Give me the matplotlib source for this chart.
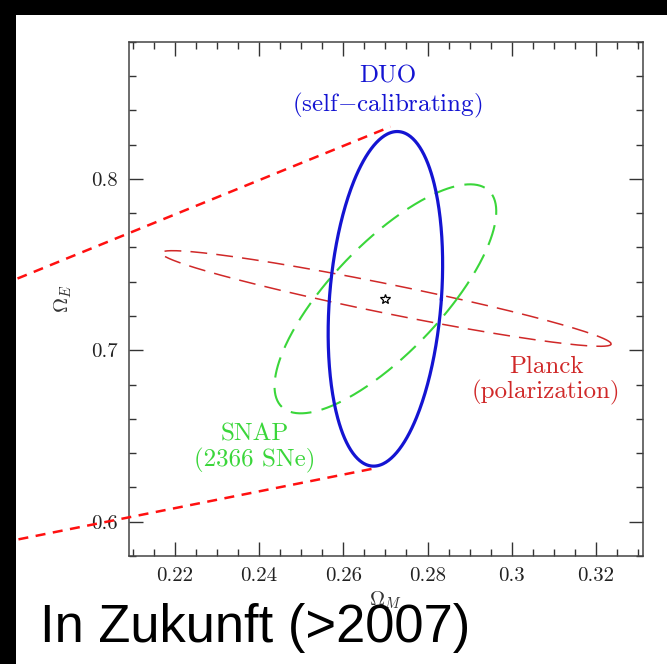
import numpy as np
import matplotlib

matplotlib.use("Agg")
import matplotlib.pyplot as plt
from matplotlib.patches import Rectangle
from matplotlib.ticker import MultipleLocator

plt.rcParams["mathtext.fontset"] = "cm"
plt.rcParams["axes.unicode_minus"] = False

# star = fiducial model
star = (0.270, 0.730)

# ellipses: center + [[a, b], [c, d]] @ (cos t, sin t)
duo_center = (0.270, 0.730)
duo_axes = [[0.0133, 0.0028], [0.0, 0.0976]]
snap_center = (0.270, 0.730)
snap_axes = [[0.0170, 0.0201], [0.0, 0.0668]]
planck_center = (0.2702, 0.7302)
planck_axes = [[0.0534, 0.0], [-0.0265, 0.0087]]

# red callout lines (data coords, run off the axes to the left)
callout_top = ([0.1788, 0.2712], [0.7380, 0.8304])
callout_bot = ([0.1788, 0.2676], [0.5877, 0.6312])

x_ticks = [0.22, 0.24, 0.26, 0.28, 0.30, 0.32]
x_ticklabels = ["0.22", "0.24", "0.26", "0.28", "0.3", "0.32"]
y_ticks = [0.6, 0.7, 0.8]
y_ticklabels = ["0.6", "0.7", "0.8"]

BLUE = "#1414d2"
GREEN = "#3ad63a"
PLANCK = "#d02828"
CALLOUT = "#ff1010"
SERIF = "cmr10"


def ellipse(center, m, n=400):
    t = np.linspace(0, 2 * np.pi, n)
    m = np.asarray(m)
    pts = m @ np.vstack([np.cos(t), np.sin(t)])
    return center[0] + pts[0], center[1] + pts[1]


fig = plt.figure(figsize=(6.67, 6.64), dpi=100)
fig.patch.set_facecolor("white")
# black slide border, top and left
fig.patches.append(Rectangle((0, 1 - 15 / 664), 1, 15 / 664, transform=fig.transFigure,
                             facecolor="black", edgecolor="none", zorder=0))
fig.patches.append(Rectangle((0, 0), 16 / 667, 1, transform=fig.transFigure,
                             facecolor="black", edgecolor="none", zorder=0))

ax = fig.add_axes((0.1939, 0.1627, 0.7697, 0.7745))
ax.set_xlim(0.2092, 0.3311)
ax.set_ylim(0.58, 0.88)

x, y = ellipse(planck_center, planck_axes)
ax.plot(x, y, color=PLANCK, lw=1.1, dashes=(11, 6))
x, y = ellipse(snap_center, snap_axes)
ax.plot(x, y, color=GREEN, lw=1.5, dashes=(10, 5))
x, y = ellipse(duo_center, duo_axes)
ax.plot(x, y, color=BLUE, lw=2.3)
ax.plot(*star, marker="*", ms=7, mfc="white", mec="black", mew=0.9)

for xs, ys in (callout_top, callout_bot):
    ax.plot(xs, ys, color=CALLOUT, lw=1.8, dashes=(4, 3), clip_on=False, zorder=5)

ax.text(0.2705, 0.8503, "DUO\n(self$-$calibrating)", color=BLUE, family=SERIF,
        fontsize=18, ha="center", va="center", linespacing=1.2)
ax.text(0.239, 0.6429, "SNAP\n(2366 SNe)", color=GREEN, family=SERIF,
        fontsize=18, ha="center", va="center", linespacing=1.1)
ax.text(0.3082, 0.6822, "Planck\n(polarization)", color=PLANCK, family=SERIF,
        fontsize=18, ha="center", va="center", linespacing=1.1)

ax.set_xticks(x_ticks)
ax.set_xticklabels(x_ticklabels, family=SERIF, fontsize=15)
ax.set_yticks(y_ticks)
ax.set_yticklabels(y_ticklabels, family=SERIF, fontsize=15)
ax.xaxis.set_minor_locator(MultipleLocator(0.005))
ax.yaxis.set_minor_locator(MultipleLocator(0.02))
ax.tick_params(which="both", direction="in", top=True, right=True, color="#333333",
               labelcolor="#222222", width=1.0)
ax.tick_params(which="major", length=10, pad=8)
ax.tick_params(which="minor", length=5)
for s in ax.spines.values():
    s.set_color("#444444")
    s.set_linewidth(1.1)

ax.set_xlabel(r"$\Omega_M$", fontsize=15, labelpad=3, color="#333333")
ax.set_ylabel(r"$\Omega_E$", fontsize=15, labelpad=13, color="#333333")

fig.text(40 / 667, 1 - 641.7 / 664, "In Zukunft (>2007)", family="Liberation Sans",
         fontsize=37.8, color="black", va="baseline", ha="left")

fig.savefig("out.png", dpi=100)
